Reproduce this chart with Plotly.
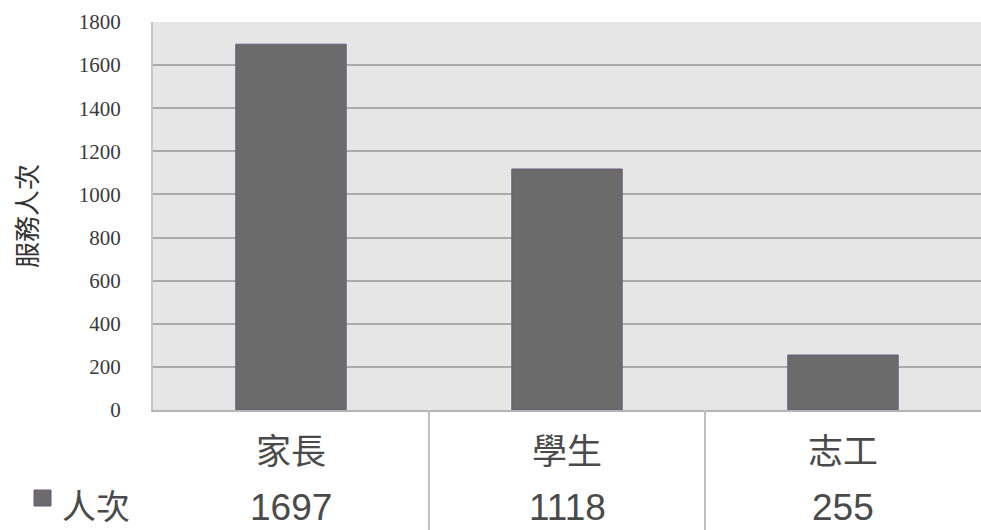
import plotly.graph_objects as go

categories = ["家長", "學生", "志工"]
values = [1697, 1118, 255]
series_name = "人次"
y_title = "服務人次"
tick_vals = [0, 200, 400, 600, 800, 1000, 1200, 1400, 1600, 1800]

BAR = "#6b6b6b"
GRID = "#ababab"
CJK = "Noto Sans CJK TC"

fig = go.Figure()
fig.add_trace(go.Bar(
    x=categories, y=values, name=series_name,
    marker=dict(color=BAR, line=dict(color="#6a5a7a", width=1)),
    width=0.4,
))

annotations = []
for c, v in zip(categories, values):
    annotations.append(dict(x=c, y=0, xref="x", yref="paper", text=c, showarrow=False,
                            yanchor="middle", yshift=-38,
                            font=dict(family=CJK, size=35, color="#4a4a4a")))
    annotations.append(dict(x=c, y=0, xref="x", yref="paper", text=str(v), showarrow=False,
                            yanchor="middle", yshift=-97,
                            font=dict(family="Liberation Sans", size=37, color="#4a4a4a")))
annotations.append(dict(x=-93 / 828, y=0, xref="paper", yref="paper", text=series_name,
                        showarrow=False, xanchor="left", yanchor="middle", yshift=-94,
                        font=dict(family=CJK, size=34, color="#4a4a4a")))

shapes = []
for xb in [1 / 3, 2 / 3]:
    shapes.append(dict(type="line", xref="paper", yref="paper", x0=xb, x1=xb,
                       y0=0, y1=-120 / 388, line=dict(color="#c0c0c0", width=2)))
shapes.append(dict(type="rect", xref="paper", yref="paper",
                   x0=-119 / 828, x1=-102 / 828, y0=-80 / 388, y1=-96 / 388,
                   fillcolor=BAR, line=dict(color="#6a5a7a", width=1)))

fig.update_layout(
    width=981, height=530,
    margin=dict(l=153, r=0, t=22, b=120),
    paper_bgcolor="white", plot_bgcolor="#e6e6e6",
    showlegend=False,
    bargap=0.6,
    xaxis=dict(range=[-0.5, 2.5], showticklabels=False, showgrid=False,
               showline=True, linecolor="#b5b5b5", linewidth=2, zeroline=False),
    yaxis=dict(range=[0, 1800], tickvals=tick_vals, showgrid=True, gridcolor=GRID, gridwidth=2,
               showline=True, linecolor="#c5c5c5", linewidth=2, zeroline=False,
               ticks="outside", ticklen=26, tickcolor="rgba(0,0,0,0)",
               tickfont=dict(family="Liberation Serif", size=21, color="#3a3a3a"),
               title=dict(text=y_title, standoff=34,
                          font=dict(family=CJK, size=26, color="#333333"))),
    annotations=annotations,
    shapes=shapes,
)

fig.write_html("out.html", config={"displayModeBar": False},
               post_script="document.body.style.margin='0';document.body.style.overflow='hidden';")
